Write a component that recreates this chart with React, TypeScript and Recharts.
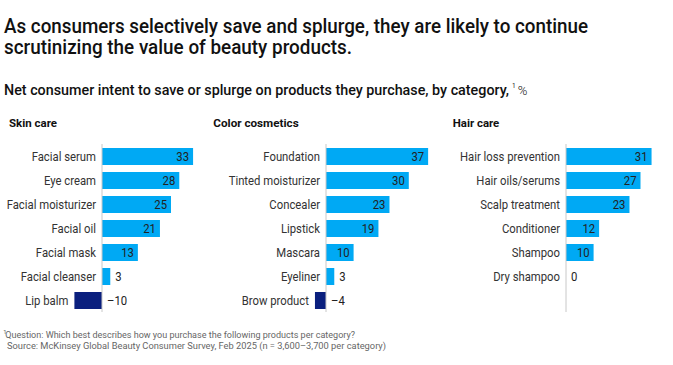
import { BarChart, Bar, XAxis, YAxis, Cell, ReferenceLine } from 'recharts'

// data
const panelTitles = ['Skin care', 'Color cosmetics', 'Hair care']

const skinCategories = [
  'Facial serum',
  'Eye cream',
  'Facial moisturizer',
  'Facial oil',
  'Facial mask',
  'Facial cleanser',
  'Lip balm',
]
const skinValues = [33, 28, 25, 21, 13, 3, -10]

const colorCategories = [
  'Foundation',
  'Tinted moisturizer',
  'Concealer',
  'Lipstick',
  'Mascara',
  'Eyeliner',
  'Brow product',
]
const colorValues = [37, 30, 23, 19, 10, 3, -4]

const hairCategories = [
  'Hair loss prevention',
  'Hair oils/serums',
  'Scalp treatment',
  'Conditioner',
  'Shampoo',
  'Dry shampoo',
]
const hairValues = [31, 27, 23, 12, 10, 0]

const BLUE = '#00A9F4'
const NAVY = '#0A1F7E'
const FONT = "Roboto, 'Liberation Sans', sans-serif"

const PX = 2.76 // px per point
const ROW = 24
const ROWS = 7
const PLOT_TOP = 144
const SQUEEZE = 0.87 // labels are set in a narrow face

const fmt = (v: number) => (v < 0 ? `\u2013${Math.abs(v)}` : `${v}`)

function NarrowText({ x, y, anchor, fill, children }: any) {
  return (
    <text
      transform={`translate(${x} ${y}) scale(${SQUEEZE} 1)`}
      textAnchor={anchor}
      fontSize={13}
      fill={fill}
      fontFamily={FONT}
    >
      {children}
    </text>
  )
}

function makeRowTick(categories: string[], values: number[], zeroX: number) {
  return function RowTick(props: any) {
    const { y, payload } = props
    const i = categories.indexOf(payload.value)
    if (i < 0) return null
    const v = values[i]
    const end = zeroX + v * PX
    const inside = v > 0 && v * PX >= 20
    const base = y + 4.5
    return (
      <g>
        <NarrowText x={Math.min(zeroX, end) - 6} y={base} anchor="end" fill="#333">
          {payload.value}
        </NarrowText>
        <NarrowText x={inside ? end - 4 : Math.max(zeroX, end) + 5} y={base} anchor={inside ? 'end' : 'start'} fill="#222">
          {fmt(v)}
        </NarrowText>
      </g>
    )
  }
}

interface PanelProps {
  categories: string[]
  values: number[]
  left: number
  width: number
  axisX: number
}

function Panel({ categories, values, left, width, axisX }: PanelProps) {
  const data = categories.map((name, i) => ({ name, value: values[i] }))
  const axisIn = axisX - left
  const lo = -15
  const marginRight = 4
  const plotLeft = axisIn + lo * PX
  const hi = (width - marginRight - axisIn) / PX
  const padBottom = (ROWS - categories.length) * ROW
  const RowTick = makeRowTick(categories, values, axisIn)
  return (
    <div style={{ position: 'absolute', left, top: PLOT_TOP - 4 }}>
      <BarChart
        width={width}
        height={ROWS * ROW + 4}
        data={data}
        layout="vertical"
        margin={{ top: 4, right: marginRight, bottom: 0, left: 0 }}
        barSize={17}
      >
        <XAxis type="number" hide domain={[lo, hi]} allowDataOverflow />
        <YAxis
          type="category"
          dataKey="name"
          width={plotLeft}
          axisLine={false}
          tickLine={false}
          interval={0}
          tick={<RowTick />}
          padding={{ top: 0, bottom: padBottom }}
        />
        <Bar dataKey="value" isAnimationActive={false}>
          {data.map((d) => (
            <Cell key={d.name} fill={d.value < 0 ? NAVY : BLUE} />
          ))}
        </Bar>
        <ReferenceLine x={0} stroke="#c8c8c8" strokeWidth={1} />
      </BarChart>
    </div>
  )
}

export default function App() {
  return (
    <div style={{ position: 'absolute', left: 0, top: 0, width: 673, height: 365, background: '#fff', overflow: 'hidden' }}>
      <svg width={673} height={365} style={{ position: 'absolute', left: 0, top: 0 }}>
        <g fontFamily={FONT} fontWeight={500} fill="#111" fontSize={19.5}>
          <text x={4} y={32.5} textLength={584} lengthAdjust="spacingAndGlyphs">
            As consumers selectively save and splurge, they are likely to continue
          </text>
          <text x={4} y={54} textLength={348} lengthAdjust="spacingAndGlyphs">
            scrutinizing the value of beauty products.
          </text>
        </g>
        <text x={4} y={95} fontFamily={FONT} fill="#111" fontSize={15} fontWeight={500}>
          <tspan textLength={505} lengthAdjust="spacingAndGlyphs">
            Net consumer intent to save or splurge on products they purchase, by category,
          </tspan>
          <tspan dx={3} dy={-7} fontSize={6.5} fontWeight={400}>1</tspan>
          <tspan dx={2} dy={7} fontSize={13} fontWeight={300}>%</tspan>
        </text>
        <g fontFamily={FONT} fontWeight={700} fill="#111" fontSize={11.5}>
          <text x={9} y={126.7} textLength={48} lengthAdjust="spacingAndGlyphs">{panelTitles[0]}</text>
          <text x={213.3} y={126.7} textLength={85.4} lengthAdjust="spacingAndGlyphs">{panelTitles[1]}</text>
          <text x={452.7} y={126.7} textLength={46.6} lengthAdjust="spacingAndGlyphs">{panelTitles[2]}</text>
        </g>
        <g fontFamily={FONT} fill="#666" fontSize={8.8}>
          <text x={3.3} y={334} fontSize={6}>1</text>
          <text x={5.3} y={337.5} textLength={349.7} lengthAdjust="spacingAndGlyphs">
            Question: Which best describes how you purchase the following products per category?
          </text>
          <text x={7} y={348.5} textLength={379} lengthAdjust="spacingAndGlyphs">
            Source: McKinsey Global Beauty Consumer Survey, Feb 2025 (n = 3,600–3,700 per category)
          </text>
        </g>
      </svg>
      <Panel categories={skinCategories} values={skinValues} left={0} width={205} axisX={102} />
      <Panel categories={colorCategories} values={colorValues} left={205} width={235} axisX={326} />
      <Panel categories={hairCategories} values={hairValues} left={445} width={228} axisX={566} />
    </div>
  )
}
